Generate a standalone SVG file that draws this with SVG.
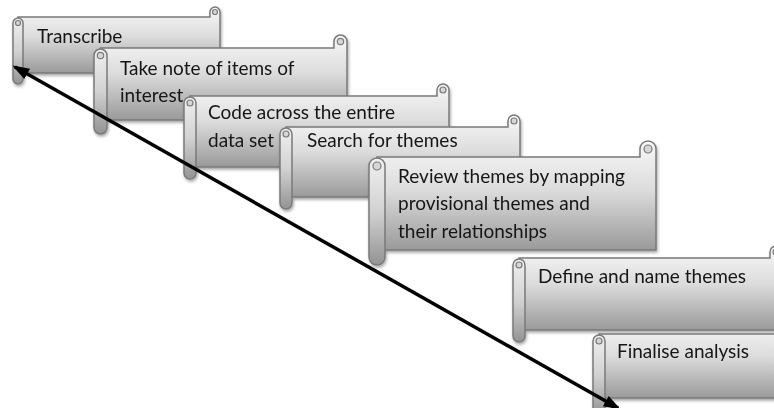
<svg xmlns="http://www.w3.org/2000/svg" width="774" height="408" viewBox="0 0 774 408">
  <defs>
    <linearGradient id="gBody" x1="0" y1="0" x2="0" y2="1">
      <stop offset="0" stop-color="#f8f8f8"/>
      <stop offset="0.45" stop-color="#dcdcdc"/>
      <stop offset="1" stop-color="#9a9a9a"/>
    </linearGradient>
    <linearGradient id="gRoll" x1="0" y1="0" x2="0" y2="1">
      <stop offset="0" stop-color="#f0f0f0"/>
      <stop offset="0.5" stop-color="#d2d2d2"/>
      <stop offset="1" stop-color="#939393"/>
    </linearGradient>
    <filter id="shadow" x="-5%" y="-10%" width="112%" height="130%">
      <feDropShadow dx="1" dy="2" stdDeviation="1.5" flood-color="#000" flood-opacity="0.35"/>
    </filter>
    <marker id="arrow" markerUnits="userSpaceOnUse" markerWidth="18" markerHeight="14" refX="14" refY="6" orient="auto-start-reverse" viewBox="0 0 18 12">
      <path d="M0,0 L17,6 L0,12 Z" fill="#000"/>
    </marker>
    <style>
      .body { fill: url(#gBody); stroke: #7a7a7a; stroke-width: 1.5; }
      .roll { fill: url(#gRoll); stroke: #7a7a7a; stroke-width: 1.5; }
      .spiral { fill: #d6d6d6; stroke: #7a7a7a; stroke-width: 1.2; }
      .node { filter: url(#shadow); }
      .label { font-family: Lato, "Liberation Sans", sans-serif; font-size: 19px; fill: #161616; }
      .conn { stroke: #000; stroke-width: 3.5; fill: none; }
    </style>
  </defs>

  <g id="n1" class="node">
    <path class="body" d="M18,17 H210 V12 A5,5 0 0 1 220,12 V73 H18 Z"/>
    <circle class="spiral" cx="215" cy="12" r="2.5"/>
    <rect class="roll" x="13" y="18" width="10" height="66" rx="5"/>
    <circle class="spiral" cx="18" cy="23" r="2.5"/>
    <text class="label" x="37" y="43">Transcribe</text>
  </g>

  <g id="n2" class="node">
    <path class="body" d="M100.5,48 H334 V41.5 A6.5,6.5 0 0 1 347,41.5 V120 H100.5 Z"/>
    <circle class="spiral" cx="340.5" cy="41.5" r="3.2"/>
    <rect class="roll" x="94" y="49" width="13" height="85" rx="6.5"/>
    <circle class="spiral" cx="100.5" cy="55.5" r="3.2"/>
    <text class="label" x="120" y="75">Take note of items of</text>
    <text class="label" x="120" y="102">interest</text>
  </g>

  <g id="n3" class="node">
    <path class="body" d="M190,96 H437 V90 A6,6 0 0 1 449,90 V167 H190 Z"/>
    <circle class="spiral" cx="443" cy="90" r="3"/>
    <rect class="roll" x="184" y="97" width="12" height="82" rx="6"/>
    <circle class="spiral" cx="190" cy="103" r="3"/>
    <text class="label" x="208" y="119">Code across the entire</text>
    <text class="label" x="208" y="147">data set</text>
  </g>

  <g id="n4" class="node">
    <path class="body" d="M286,127 H508 V121 A6,6 0 0 1 520,121 V197 H286 Z"/>
    <circle class="spiral" cx="514" cy="121" r="3"/>
    <rect class="roll" x="280" y="128" width="12" height="81" rx="6"/>
    <circle class="spiral" cx="286" cy="134" r="3"/>
    <text class="label" x="307" y="147">Search for themes</text>
  </g>

  <g id="n5" class="node">
    <path class="body" d="M377,157 H640 V149 A8,8 0 0 1 656,149 V250 H377 Z"/>
    <circle class="spiral" cx="648" cy="149" r="4"/>
    <rect class="roll" x="369" y="158" width="16" height="107" rx="8"/>
    <circle class="spiral" cx="377" cy="166" r="4"/>
    <text class="label" x="398" y="183">Review themes by mapping</text>
    <text class="label" x="398" y="210">provisional themes and</text>
    <text class="label" x="398" y="238">their relationships</text>
  </g>

  <g id="n6" class="node">
    <path class="body" d="M519,258 H770 V252 A6,6 0 0 1 782,252 V330 H519 Z"/>
    <circle class="spiral" cx="776" cy="252" r="3"/>
    <rect class="roll" x="513" y="259" width="12" height="83" rx="6"/>
    <circle class="spiral" cx="519" cy="265" r="3"/>
    <text class="label" x="538" y="283">Define and name themes</text>
  </g>

  <g id="n7" class="node">
    <path class="body" d="M599,334 H778 V328 A6,6 0 0 1 790,328 V398 H599 Z"/>
    <rect class="roll" x="593" y="335" width="12" height="80" rx="6"/>
    <circle class="spiral" cx="599" cy="341" r="3"/>
    <text class="label" x="617" y="358">Finalise analysis</text>
  </g>

  <g id="connectors">
    <line class="conn" x1="15" y1="67" x2="618" y2="408" marker-start="url(#arrow)" marker-end="url(#arrow)"/>
  </g>
</svg>
